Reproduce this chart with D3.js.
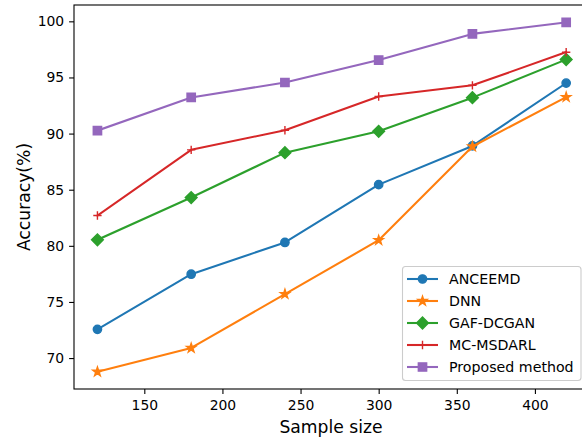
<!DOCTYPE html>
<html><head><meta charset="utf-8">
<script src="https://cdn.jsdelivr.net/npm/d3@7"></script>
<style>
html,body{margin:0;padding:0;background:#fff;}
svg{display:block;font-family:"DejaVu Sans",sans-serif;}
</style></head>
<body>
<svg id="chart" width="582" height="437"></svg>
<script>
const sampleSizes = [120, 180, 240, 300, 360, 420];
const anceemd  = [72.56, 77.47, 80.3, 85.45, 88.9, 94.5];
const dnn      = [68.78, 70.9, 75.7, 80.5, 88.85, 93.25];
const gafDcgan = [80.54, 84.3, 88.3, 90.2, 93.2, 96.6];
const mcMsdarl = [82.7, 88.55, 90.3, 93.3, 94.3, 97.25];
const proposed = [90.27, 93.22, 94.55, 96.55, 98.88, 99.9];
const seriesNames = ["ANCEEMD", "DNN", "GAF-DCGAN", "MC-MSDARL", "Proposed method"];
const xTicks = [150, 200, 250, 300, 350, 400];
const yTicks = [70, 75, 80, 85, 90, 95, 100];
const xLabel = "Sample size";
const yLabel = "Accuracy(%)";

const colors = ["#1f77b4", "#ff7f0e", "#2ca02c", "#d62728", "#9467bd"];
const markers = ["circle", "star", "diamond", "plus", "square"];
const allSeries = [anceemd, dnn, gafDcgan, mcMsdarl, proposed];

(function () {
const svg = d3.select("#chart");
const pl = 74, pr = 589.6, pt = 5, pb = 389;

const x = d3.scaleLinear().domain([105, 435]).range([pl, pr]);
const y = d3.scaleLinear().domain([67.245, 101.455]).range([pb, pt]);

const line = d3.line().x((d, i) => x(sampleSizes[i])).y(d => y(d));

function markerPath(type) {
  const s = 8.33;
  switch (type) {
    case "circle": return d3.symbol(d3.symbolCircle, Math.PI * (s/2) * (s/2))();
    case "square": return d3.symbol(d3.symbolSquare, s * s)();
    case "diamond": { const r = s * 0.707; return `M0,${-r}L${r},0L0,${r}L${-r},0Z`; }
    case "star": return d3.symbol(d3.symbolStar, 26)();
    case "plus": { const r = s/2; return `M${-r},0L${r},0M0,${-r}L0,${r}`; }
  }
}
function styleMarker(p, si) {
  if (markers[si] === "plus") p.attr("fill", "none").attr("stroke", colors[si]).attr("stroke-width", 1.4);
  else p.attr("fill", colors[si]).attr("stroke", colors[si]).attr("stroke-width", 1.4);
}

allSeries.forEach((vals, si) => {
  svg.append("path").attr("d", line(vals)).attr("fill", "none")
    .attr("stroke", colors[si]).attr("stroke-width", 2.08).attr("stroke-linejoin", "round").attr("stroke-linecap", "square");
  vals.forEach((v, i) => {
    const p = svg.append("path").attr("d", markerPath(markers[si]))
      .attr("transform", `translate(${x(sampleSizes[i])},${y(v)})`);
    styleMarker(p, si);
  });
});

const xAxis = d3.axisBottom(x).tickValues(xTicks).tickSize(4.9).tickPadding(5.8);
const yAxis = d3.axisLeft(y).tickValues(yTicks).tickSize(4.9).tickPadding(4.9);
const gx = svg.append("g").attr("transform", `translate(0,${pb})`).call(xAxis);
const gy = svg.append("g").attr("transform", `translate(${pl},0)`).call(yAxis);
[gx, gy].forEach(g => {
  g.select(".domain").remove();
  g.selectAll("line").attr("stroke", "#000").attr("stroke-width", 1.1);
  g.selectAll("text").attr("font-size", "13.9px").attr("fill", "#000").attr("font-family", "DejaVu Sans");
});
svg.append("rect").attr("x", pl).attr("y", pt).attr("width", pr - pl).attr("height", pb - pt)
  .attr("fill", "none").attr("stroke", "#000").attr("stroke-width", 1.1);

svg.append("text").attr("x", 331).attr("y", 432.5).attr("text-anchor", "middle")
  .attr("font-size", "17.2px").attr("fill", "#000").text(xLabel);
svg.append("text").attr("transform", `translate(29.5,${(pt + pb) / 2}) rotate(-90)`).attr("text-anchor", "middle")
  .attr("font-size", "17.2px").attr("fill", "#000").text(yLabel);

const lg = svg.append("g");
lg.append("rect").attr("x", 402.5).attr("y", 266.5).attr("width", 178.5).attr("height", 114)
  .attr("rx", 3).attr("fill", "#fff").attr("fill-opacity", 0.8).attr("stroke", "#cccccc").attr("stroke-width", 1.1);
seriesNames.forEach((name, i) => {
  const yy = 279 + i * 22;
  lg.append("line").attr("x1", 407).attr("x2", 438).attr("y1", yy).attr("y2", yy)
    .attr("stroke", colors[i]).attr("stroke-width", 2.08);
  const p = lg.append("path").attr("d", markerPath(markers[i])).attr("transform", `translate(422.5,${yy})`);
  styleMarker(p, i);
  lg.append("text").attr("x", 449).attr("y", yy + 5).attr("font-size", "14.2px").attr("fill", "#000").text(name);
});
})();
</script>
</body></html>
